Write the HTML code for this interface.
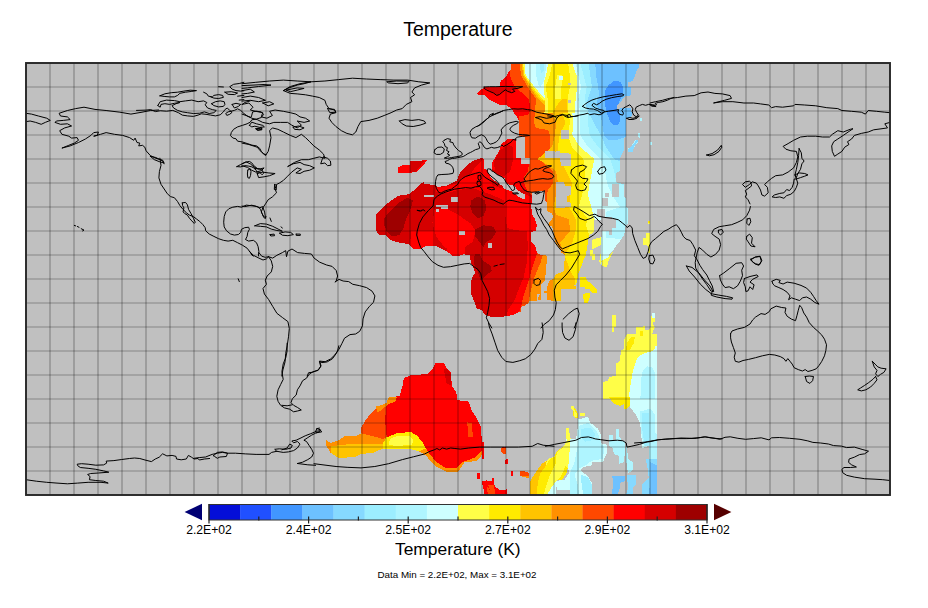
<!DOCTYPE html>
<html><head><meta charset="utf-8"><title>Temperature</title>
<style>
html,body{margin:0;padding:0;background:#fff;}
body{width:928px;height:608px;overflow:hidden;}
svg{display:block;}
text{font-family:"Liberation Sans",Arial,sans-serif;fill:#000;}
</style></head><body>
<svg width="928" height="608" viewBox="0 0 928 608">
<rect width="928" height="608" fill="#fff"/>
<defs><clipPath id="mapclip"><rect x="26" y="63" width="864" height="432"/></clipPath></defs>
<rect x="26" y="63" width="864" height="432" fill="#c0c0c0"/>
<g clip-path="url(#mapclip)" shape-rendering="crispEdges">
<defs><mask id="dm" maskUnits="userSpaceOnUse" x="0" y="0" width="928" height="608"><polygon points="511.4,63.0 638.5,63.0 638.5,67.7 636.1,71.7 634.5,77.2 632.2,81.2 628.2,82.0 628.2,86.7 630.6,87.5 630.6,95.4 625.0,96.2 621.9,100.1 617.2,105.6 617.2,108.8 625.8,108.0 630.6,108.0 632.2,115.1 629.8,117.5 625.8,118.3 625.8,137.2 623.5,138.2 623.5,150.8 619.5,158.7 619.5,171.3 616.4,172.9 616.4,182.4 623.5,184.0 624.3,196.6 625.8,198.2 625.8,206.8 628.2,209.2 628.2,223.4 625.8,225.0 625.0,231.0 623.5,236.0 620.0,241.0 616.0,246.0 613.0,250.5 609.0,254.5 607.0,266.7 602.0,266.0 599.2,262.0 600.7,252.5 600.7,245.4 592.0,249.3 592.0,239.8 602.3,236.7 602.3,230.4 600.7,224.0 601.4,226.7 595.4,230.7 589.0,235.4 587.5,244.9 586.0,254.4 584.0,259.1 581.0,267.0 578.5,273.3 577.7,278.8 576.1,284.4 572.9,286.0 572.9,289.1 561.1,289.1 561.1,300.5 554.0,301.0 547.4,300.0 537.3,300.5 544.4,281.5 541.2,284.7 541.2,293.4 537.3,294.2 537.3,300.5 529.4,300.5 529.4,302.1 525.4,305.2 521.5,306.8 520.7,311.5 513.6,314.7 505.7,316.3 497.8,317.1 491.5,317.1 486.7,315.5 483.6,313.1 482.0,310.0 482.0,310.0 476.5,308.4 474.9,302.8 472.5,297.3 471.0,294.2 471.0,281.5 472.5,276.8 474.9,273.6 474.1,268.9 471.0,262.6 469.4,254.7 463.1,254.4 458.3,256.3 452.0,255.5 447.3,251.5 441.0,248.4 434.6,245.5 426.7,245.5 421.2,248.4 417.3,249.2 412.5,248.4 409.4,244.4 401.5,242.8 395.9,242.1 390.4,239.7 385.7,235.4 379.4,234.9 376.2,231.0 376.2,214.0 381.7,209.2 388.0,202.9 398.3,195.8 409.4,194.2 415.7,188.7 420.4,183.9 423.6,182.4 424.4,183.9 436.2,185.2 437.8,187.1 447.3,185.5 456.7,180.8 459.9,172.9 465.4,166.6 472.5,161.0 482.0,158.0 492.0,161.8 495.9,156.3 499.4,150.8 501.4,143.7 505.4,141.3 508.5,138.5 519.0,138.5 519.0,134.8 519.0,121.4 516.7,116.7 513.3,112.0 511.7,108.8 506.6,105.3 500.3,105.0 494.6,102.5 488.0,99.0 484.1,94.9 477.7,94.6 477.3,93.0 480.1,90.2 484.8,87.0 499.4,86.7 500.6,81.2 506.2,76.4 508.8,71.7 511.4,68.5 511.4,63.0" fill="#fff" /></mask></defs>
<g mask="url(#dm)"><polygon points="360.0,60.0 700.0,60.0 700.0,330.0 360.0,330.0" fill="#ff0000" /><polygon points="370.0,150.0 482.0,150.0 482.0,160.0 500.0,175.0 512.0,190.0 532.0,190.0 532.0,231.0 527.0,231.0 527.8,246.8 526.7,262.6 523.8,276.8 519.9,286.3 514.4,300.5 508.0,310.0 505.7,320.0 470.0,320.0 370.0,250.0" fill="#d50000" /><polygon points="435.2,186.6 444.9,186.6 455.9,183.9 461.4,177.8 469.7,175.6 475.2,167.3 483.5,159.0 491.8,159.0 491.8,185.2 505.6,189.4 516.7,192.1 527.7,194.9 534.6,200.4 538.8,223.9 530.5,231.4 516.7,230.3 507.0,228.0 505.1,214.2 504.2,200.4 491.8,194.9 483.5,192.1 472.5,188.0 458.7,189.9 444.9,193.5 436.6,192.1" fill="#ff0000" /><polygon points="434.4,210.1 444.9,208.2 457.3,214.2 471.1,223.9 475.8,231.4 472.5,241.9 458.7,251.5 444.9,247.9 436.0,236.3 432.4,222.5" fill="#ff0000" /><polygon points="411.0,231.0 434.6,231.0 434.6,247.0 426.7,247.0 421.2,250.0 412.5,250.0 410.2,244.4" fill="#ff0000" /><polygon points="447.3,240.5 464.6,240.5 464.6,256.0 458.3,258.0 452.0,257.0 447.3,251.5" fill="#ff0000" /><polygon points="384.1,218.4 389.6,211.5 397.9,203.2 407.6,197.7 413.1,200.4 410.3,210.1 406.2,218.4 403.4,228.0 399.3,235.0 392.4,236.3 386.9,231.4 384.1,225.3" fill="#9e0000" /><polygon points="471.1,200.4 478.0,196.3 484.9,200.4 486.3,208.7 483.5,215.6 478.0,218.4 472.5,212.9 470.3,206.0" fill="#9e0000" /><polygon points="475.2,229.4 483.5,225.3 493.2,226.7 495.9,232.2 491.8,239.1 486.3,241.9 483.5,247.4 479.4,241.9 475.2,236.3" fill="#9e0000" /><polygon points="474.7,254.3 479.4,254.3 483.5,261.2 490.4,265.3 491.8,270.9 486.3,275.0 480.8,280.5 478.0,272.2 473.9,263.9" fill="#9e0000" /><polygon points="511.4,60.0 510.5,68.0 509.8,75.0 512.0,81.0 515.0,87.0 521.0,92.0 528.7,99.0 530.0,105.0 529.8,111.0 528.0,115.0 519.5,116.0 519.0,137.0 523.0,140.0 525.0,150.0 525.0,158.0 529.0,164.0 528.0,171.0 524.0,177.0 524.0,183.0 527.0,190.0 531.0,195.0 540.0,200.0 540.0,250.0 536.5,254.7 534.1,262.6 530.9,272.0 529.4,278.4 526.2,287.8 523.0,297.3 521.5,305.2 518.0,315.0 518.0,330.0 720.0,330.0 720.0,60.0" fill="#ff4800" /><polygon points="519.8,60.0 520.8,75.0 527.7,87.0 536.0,99.0 535.0,111.0 534.0,123.0 536.0,128.0 548.0,130.0 550.0,135.0 550.0,147.0 548.0,155.0 540.0,159.0 545.0,165.0 553.0,171.0 553.4,183.0 548.0,190.0 547.0,195.0 547.0,250.0 543.0,254.7 540.5,262.6 536.5,272.0 534.1,278.4 531.0,290.0 529.4,297.3 528.0,305.0 528.0,330.0 720.0,330.0 720.0,60.0" fill="#ff9000" /><polygon points="521.6,60.0 523.0,75.0 529.8,87.0 538.2,99.0 551.8,111.0 556.0,123.0 555.0,135.0 552.0,147.0 537.6,159.0 548.0,165.0 556.0,171.0 558.0,183.0 556.0,195.0 553.4,207.0 556.0,215.0 569.0,219.0 570.0,231.0 560.0,243.0 565.0,255.0 556.0,270.0 553.4,279.0 553.4,330.0 720.0,330.0 720.0,60.0" fill="#ffc400" /><polygon points="522.6,60.0 524.0,75.0 531.4,87.0 540.3,99.0 561.3,111.0 565.6,123.0 559.7,135.0 558.0,147.0 559.7,159.0 566.0,171.0 572.3,183.0 570.0,195.0 569.2,207.0 575.5,219.0 575.5,231.0 572.3,243.0 564.4,255.0 570.0,270.0 575.0,279.0 575.0,330.0 720.0,330.0 720.0,60.0" fill="#ffeb00" /><polygon points="522.8,60.0 524.3,75.0 532.5,87.0 542.4,99.0 569.0,111.0 569.8,123.0 567.6,135.0 572.0,147.0 583.4,159.0 585.0,171.0 585.0,183.0 582.0,195.0 578.6,207.0 588.0,219.0 586.0,225.0 592.0,243.0 600.0,330.0 720.0,330.0 720.0,60.0" fill="#fffe47" /><polygon points="524.5,60.0 525.6,75.0 534.5,87.0 545.0,99.0 572.3,111.0 573.0,123.0 572.3,135.0 580.0,147.0 594.4,159.0 592.0,171.0 589.7,183.0 588.0,195.0 591.3,207.0 594.0,219.0 600.7,224.0 601.0,330.0 720.0,330.0 720.0,60.0" fill="#ceffff" /><polygon points="575.0,60.0 578.2,75.0 581.4,87.0 578.2,99.0 580.0,111.0 580.0,123.0 580.2,135.0 588.0,147.0 600.7,159.0 605.0,171.0 607.0,183.0 612.0,195.0 620.0,207.0 606.0,212.0 606.0,238.0 640.0,240.0 720.0,240.0 720.0,60.0" fill="#aff5ff" /><polygon points="579.3,60.0 583.5,75.0 586.7,87.0 584.5,99.0 588.0,111.0 588.0,123.0 589.7,135.0 598.0,147.0 610.2,159.0 614.0,171.0 616.5,183.0 640.0,190.0 720.0,190.0 720.0,60.0" fill="#9ceeff" /><polygon points="588.0,60.0 592.0,87.0 586.0,105.0 588.0,111.0 594.0,123.0 600.7,135.0 606.0,147.0 614.0,159.0 640.0,170.0 720.0,170.0 720.0,60.0" fill="#86d9ff" /><polygon points="594.3,60.0 595.8,69.3 596.6,78.8 598.2,86.7 599.0,94.6 596.6,104.0 599.8,113.5 601.4,119.8 603.0,129.3 604.0,135.0 608.5,139.7 617.2,139.7 625.0,137.0 720.0,137.0 720.0,60.0" fill="#6dc1ff" /><polygon points="614.8,80.4 620.3,81.9 622.7,86.7 622.7,94.6 619.5,100.9 617.2,107.2 620.3,115.1 620.3,121.4 617.2,125.4 613.2,125.4 609.3,119.8 606.1,110.4 604.5,100.9 604.5,91.4 608.5,85.1" fill="#4196ff" /><polygon points="548.7,59.8 571.9,59.8 574.0,69.3 576.6,75.1 577.2,87.0 575.6,98.8 575.1,112.5 544.5,112.5 545.1,99.8 543.5,87.0 544.0,81.9 546.1,75.1" fill="#fffe47" /><polygon points="552.9,59.8 567.7,59.8 569.8,75.1 569.8,87.0 567.7,98.8 567.7,112.5 547.7,112.5 547.7,98.8 545.6,87.0 549.8,75.1" fill="#ffeb00" /><polygon points="557.2,75.1 562.4,75.1 561.4,87.0 561.4,98.8 555.1,98.8 555.1,87.0" fill="#fffe47" /><polygon points="562.4,98.8 566.6,98.8 567.7,112.5 552.9,112.5 557.2,105.1" fill="#ffc400" /><polygon points="558.7,75.6 562.9,75.6 562.9,80.4 558.7,80.4" fill="#ceffff" /><polygon points="536.1,59.8 546.6,59.8 545.1,75.1 543.5,81.9 540.3,87.2 538.2,84.1 536.1,75.1" fill="#aff5ff" /><polygon points="540.3,59.8 544.5,59.8 543.5,71.4 541.4,73.5 540.3,69.3" fill="#9ceeff" /><polygon points="484.8,87.5 513.3,87.5 510.1,92.2 505.4,90.6 497.5,95.4 491.2,92.2" fill="#d50000" /><polygon points="499.4,150.8 508.5,144.5 513.3,147.6 513.3,158.7 510.1,171.3 503.8,176.1 495.9,172.9 493.5,163.4" fill="#d50000" /></g>
<polygon points="483.7,158.4 483.7,156.3 494.2,156.3 495.3,157.9 492.6,160.5 492.1,170.0 494.2,172.6 497.4,174.7 504.7,178.4 505.3,181.6 506.8,183.7 515.3,186.3 516.3,188.9 520.5,192.1 524.7,194.2 524.7,199.5 519.5,197.4 515.3,194.2 511.1,191.1 504.7,188.9 501.6,185.3 496.8,182.1 492.6,179.5 490.0,176.3 487.4,170.0 483.7,168.4" fill="#c0c0c0" /><polygon points="516.3,136.0 525.0,137.0 525.0,158.0 529.7,158.4 529.7,164.0 521.0,164.0 521.0,158.4 516.3,158.4" fill="#c0c0c0" /><polygon points="532.1,192.1 544.7,190.5 544.7,200.0 547.4,203.5 547.4,211.4 551.8,213.0 553.4,217.0 549.4,222.5 547.4,225.0 551.8,226.4 553.4,230.4 554.2,238.3 555.7,243.0 558.1,246.2 560.5,249.3 561.3,252.5 564.4,254.8 565.2,258.8 563.6,265.1 563.6,271.4 559.7,273.0 556.5,274.0 553.4,278.7 549.4,281.0 547.4,285.8 547.4,301.5 541.2,301.5 541.2,284.7 544.4,281.5 545.2,278.4 546.7,262.6 546.7,255.6 540.0,254.8 536.8,252.5 535.2,246.2 531.3,241.4 531.3,232.0 536.0,230.4 536.8,225.6 535.2,219.3 532.0,214.6 531.3,206.7 532.0,198.8" fill="#c0c0c0" /><polygon points="555.6,182.4 563.5,182.4 565.0,185.5 570.6,185.5 570.6,195.0 566.6,196.6 566.6,201.3 570.6,202.9 570.6,207.0 556.5,208.3 555.6,206.0" fill="#c0c0c0" /><polygon points="544.7,150.5 553.4,150.5 558.1,152.8 570.7,153.6 570.7,166.3 561.3,166.3 559.7,158.4 544.7,158.4" fill="#c0c0c0" /><polygon points="561.3,130.0 569.0,130.0 569.0,139.0 561.3,139.0" fill="#c0c0c0" /><polygon points="611.6,184.0 618.7,184.0 618.7,196.6 611.6,196.6" fill="#c0c0c0" /><polygon points="604.5,192.6 609.3,192.6 609.3,196.6 604.5,196.6" fill="#c0c0c0" /><polygon points="602.2,198.2 607.7,198.2 607.7,206.0 602.2,206.0" fill="#c0c0c0" /><polygon points="596.6,209.2 604.5,209.2 604.5,217.1 596.6,217.1" fill="#c0c0c0" /><polygon points="601.4,217.1 612.4,217.1 612.4,231.0 601.4,231.0" fill="#c0c0c0" /><polygon points="594.3,220.3 601.4,220.3 601.4,231.0 594.3,231.0" fill="#c0c0c0" /><polygon points="605.3,218.8 616.4,218.8 616.4,227.5 605.3,227.5" fill="#c0c0c0" /><polygon points="608.5,227.5 611.6,227.5 611.6,234.6 608.5,234.6" fill="#c0c0c0" /><polygon points="568.2,82.7 570.6,82.7 570.6,85.1 568.2,85.1" fill="#c0c0c0" /><polygon points="568.2,100.1 570.6,100.1 570.6,102.5 568.2,102.5" fill="#c0c0c0" /><polygon points="556.4,150.6 560.3,150.6 560.3,153.8 556.4,153.8" fill="#c0c0c0" /><polygon points="560.9,461.4 564.1,461.4 564.1,469.3 560.9,469.3" fill="#c0c0c0" /><polygon points="556.2,473.2 560.9,470.1 560.9,477.9 556.2,477.9" fill="#c0c0c0" /><polygon points="424.4,194.7 433.8,194.7 433.8,196.9 424.4,196.9" fill="#c0c0c0" /><polygon points="451.2,197.4 457.5,197.4 457.5,201.6 451.2,201.6" fill="#c0c0c0" /><polygon points="436.2,205.3 448.1,205.3 448.1,208.9 440.9,208.9 440.9,207.3 436.2,207.3" fill="#c0c0c0" /><polygon points="435.9,209.2 438.6,209.2 438.6,212.1 435.9,212.1" fill="#c0c0c0" /><polygon points="458.7,231.4 464.7,231.4 464.7,235.0 458.7,235.0" fill="#c0c0c0" /><polygon points="487.7,243.2 491.8,243.2 491.8,247.9 487.7,247.9" fill="#c0c0c0" />
<polygon points="435.5,362.9 443.8,362.9 446.6,368.4 450.7,372.6 452.1,386.4 456.2,391.9 457.6,400.2 468.7,401.6 471.4,409.9 476.9,418.1 481.1,427.8 481.9,443.0 483.0,448.5 481.1,456.8 476.9,460.9 464.5,462.3 461.8,466.5 457.6,472.0 446.6,472.0 438.3,467.9 432.8,463.7 425.9,455.4 418.9,451.3 407.9,448.5 396.9,448.5 383.0,448.5 373.4,452.7 361.0,454.0 355.4,456.8 338.9,458.2 330.6,452.7 326.4,445.8 326.4,440.2 330.6,443.0 338.9,440.2 344.4,436.1 355.4,436.1 361.0,433.3 361.0,427.8 365.1,420.9 369.2,415.4 374.8,409.9 380.3,405.7 386.4,403.0 388.6,397.4 399.6,396.0 402.4,386.4 403.8,378.1 410.7,375.3 427.2,374.0 432.8,368.4" fill="#ff0000" /><polygon points="386.4,403.0 385.3,418.1 385.8,433.3 388.0,437.5 383.0,444.4 361.0,444.4 361.0,427.8 365.1,420.9 369.2,415.4 374.8,409.9 380.3,405.7" fill="#ff4800" /><polygon points="376.1,406.5 381.7,405.2 386.4,403.0 388.6,397.4 396.9,396.6 395.7,401.0 387.5,404.9 381.7,409.9 377.0,412.6" fill="#ff9000" /><polygon points="361.0,433.3 383.0,438.9 386.4,437.5 383.0,448.5 373.4,452.7 361.0,454.0 355.4,456.8 338.9,458.2 330.6,452.7 326.4,445.8 326.4,440.2 330.6,443.0 338.9,440.2 344.4,436.1 355.4,436.1" fill="#ff9000" /><polygon points="330.6,446.3 347.1,444.4 383.0,444.4 383.0,448.5 373.4,452.7 361.0,454.0 355.4,456.8 338.9,458.2 330.6,452.7" fill="#ffc400" /><polygon points="386.4,437.5 396.9,433.3 410.7,431.9 417.6,436.1 423.1,443.0 425.9,448.5 428.6,452.7 418.9,451.3 407.9,448.5 383.0,448.5 383.0,443.0" fill="#ffeb00" /><polygon points="390.0,438.9 396.9,436.1 409.3,435.5 413.4,440.2 412.0,445.2 394.1,445.8 388.6,444.4" fill="#fffe47" /><polygon points="425.9,448.5 430.0,454.6 436.9,462.3 445.2,467.9 456.2,467.9 461.8,462.3 475.6,457.4 481.1,451.3 483.0,448.5 481.1,456.8 476.9,460.9 464.5,462.3 461.8,466.5 457.6,472.0 446.6,472.0 438.3,467.9 432.8,463.7 425.9,455.4 418.9,451.3" fill="#ff9000" /><polygon points="443.8,368.4 447.1,369.0 450.7,373.4 451.3,385.6 446.6,383.6 445.2,376.7" fill="#d50000" /><polygon points="467.3,422.3 472.0,423.1 472.8,437.5 468.1,436.9" fill="#ff4800" /><polygon points="501.8,447.1 505.9,447.1 505.9,452.7 501.8,452.7" fill="#ff0000" /><polygon points="504.6,459.6 507.3,459.6 507.3,463.7 504.6,463.7" fill="#ff0000" /><polygon points="476.9,473.4 479.7,473.4 479.7,478.9 476.9,478.9" fill="#ff0000" /><polygon points="511.5,470.6 513.4,470.6 513.4,474.8 511.5,474.8" fill="#ff0000" /><polygon points="481.9,481.7 486.6,480.3 490.8,484.4 493.5,478.9 495.2,489.9 507.3,489.9 507.3,494.9 484.7,494.9" fill="#ff0000" /><polygon points="486.6,485.8 492.1,488.6 493.5,494.9 488.0,494.9" fill="#ff4800" /><polygon points="519.8,472.0 525.3,472.8 529.4,476.1 529.4,478.3 519.8,476.1" fill="#ff9000" /><polygon points="580.2,278.7 584.9,278.7 589.7,283.4 592.8,285.8 596.8,288.9 596.8,292.9 592.1,292.9 589.7,288.9 584.9,286.6 580.2,286.6" fill="#ffeb00" /><polygon points="583.4,293.7 589.7,292.9 589.7,297.6 588.1,302.4 584.9,302.4 583.4,298.4" fill="#ffeb00" /><polygon points="611.8,315.0 615.7,315.0 615.7,326.1 614.2,326.1 614.2,331.6 611.8,331.6" fill="#fffe47" /><polygon points="623.6,338.7 626.0,338.7 626.0,349.7 623.6,349.7" fill="#fffe47" /><polygon points="592.1,255.0 594.4,255.0 594.4,258.9 592.1,258.9" fill="#ffeb00" /><polygon points="543.9,290.5 547.4,290.5 547.4,292.9 543.9,292.9" fill="#ff9000" /><polygon points="532.8,296.8 536.8,296.8 536.8,300.8 532.8,300.8" fill="#ff9000" /><polygon points="573.1,285.8 575.5,285.8 575.5,288.9 573.1,288.9" fill="#ffc400" /><polygon points="580.1,277.3 585.6,277.3 587.9,281.2 591.9,284.4 595.4,287.5 596.6,293.1 591.9,293.1 589.5,289.1 585.6,289.1 584.0,284.4 580.1,284.4" fill="#ffeb00" /><polygon points="585.6,293.1 589.5,293.1 589.5,297.0 587.9,302.5 584.0,302.5 584.0,297.0" fill="#ffeb00" /><polygon points="645.6,233.1 649.5,233.1 649.5,252.8 647.9,252.8 647.9,245.7 643.2,244.9 643.2,238.6 645.6,237.8" fill="#fffe47" /><polygon points="647.9,221.2 649.5,221.2 649.5,223.6 647.9,223.6" fill="#fffe47" /><polygon points="590.3,250.4 592.7,250.4 592.7,254.4 595.4,254.4 595.4,259.9 591.9,259.9 591.9,255.9 590.3,255.9" fill="#fffe47" /><polygon points="597.4,259.9 601.4,261.5 602.2,266.2 606.9,267.0 608.5,260.7 611.6,254.4 613.2,251.2 607.7,257.5 601.4,260.7" fill="#fffe47" /><polygon points="602.5,399.0 602.5,381.9 607.2,381.2 609.6,377.2 615.9,375.6 615.9,363.8 619.4,361.4 621.4,350.4 624.6,348.8 624.6,339.3 626.2,334.6 635.6,333.8 636.4,327.5 642.7,326.7 644.3,325.1 645.1,329.8 648.3,330.6 650.6,326.7 650.6,320.4 652.2,313.3 655.4,313.3 655.4,321.9 652.2,322.7 654.6,327.5 652.2,333.8 656.9,333.8 656.9,399.0" fill="#fffe47" /><polygon points="626.9,342.5 631.7,336.9 634.8,336.9 634.1,342.5 630.1,349.6 626.2,349.6" fill="#ffeb00" /><polygon points="640.4,330.6 642.7,330.6 642.7,336.2 640.4,336.2" fill="#ffeb00" /><polygon points="655.4,345.6 656.9,345.6 656.9,399.0 628.5,399.0 630.9,381.9 633.3,369.3 636.4,359.8 640.4,355.1 645.9,352.7 652.2,351.2 655.4,348.8" fill="#ceffff" /><polygon points="647.5,366.2 652.2,367.7 654.6,372.5 655.4,399.0 640.4,399.0 641.2,378.8 642.7,370.9" fill="#aff5ff" /><polygon points="611.9,314.8 615.9,314.8 615.9,326.7 614.0,326.7 614.0,332.2 611.9,332.2" fill="#fffe47" /><polygon points="652.2,313.3 655.4,313.3 655.4,318.0 652.2,318.0" fill="#ceffff" /><polygon points="629.8,399.0 656.6,399.0 656.6,495.0 648.7,495.0 648.7,435.3 647.2,446.4 642.4,447.9 640.1,422.7 636.1,414.8 629.8,406.9" fill="#ceffff" /><polygon points="640.1,411.6 650.3,408.5 655.1,414.8 655.1,432.9 656.6,433.7 656.6,495.0 648.7,495.0 648.7,446.4 644.0,446.4 640.8,430.6" fill="#aff5ff" /><polygon points="641.6,413.2 648.7,413.2 650.3,430.6 648.7,446.4 644.8,446.4 642.4,430.6" fill="#9ceeff" /><polygon points="645.6,459.0 656.6,459.0 656.6,495.0 642.4,495.0 642.4,484.3 648.7,477.9 647.2,465.3" fill="#86d9ff" /><polygon points="650.3,462.2 656.6,465.3 656.6,495.0 648.7,495.0 650.3,481.1" fill="#6dc1ff" /><polygon points="578.5,419.5 587.9,416.4 590.3,422.7 598.2,429.0 601.4,435.3 601.4,443.2 606.9,444.8 606.9,452.7 602.9,462.2 591.9,462.2 591.9,465.3 584.0,466.9 580.1,470.1 587.9,476.4 591.9,482.7 591.9,495.0 577.7,495.0 577.7,490.6 557.2,489.8 557.2,484.3 563.5,481.1 569.0,473.2 567.4,462.2 569.8,446.4 565.8,444.8 566.6,438.5 576.1,438.5 577.7,427.4" fill="#ceffff" /><polygon points="579.3,425.8 587.9,422.7 596.6,430.6 599.8,438.5 601.4,444.8 604.5,446.4 602.9,459.0 591.9,460.6 585.6,465.3 579.3,468.5 574.5,474.8 577.7,484.3 579.3,495.0 569.8,495.0 569.8,473.2 574.5,462.2 577.7,446.4 577.7,435.3" fill="#aff5ff" /><polygon points="580.8,429.0 590.3,427.4 595.1,433.7 593.5,440.1 585.6,441.6 580.8,436.9" fill="#9ceeff" /><polygon points="580.8,474.8 587.9,477.2 591.9,484.3 591.9,495.0 583.2,495.0 581.6,484.3" fill="#9ceeff" /><polygon points="554.0,457.4 557.2,451.1 563.5,446.4 569.0,446.4 569.0,462.2 566.6,473.2 561.9,480.3 556.4,480.3 554.0,474.8" fill="#ffeb00" /><polygon points="563.5,447.9 569.8,446.4 569.0,462.2 567.4,468.5 565.1,465.3 564.3,455.8" fill="#fffe47" /><polygon points="565.8,428.2 569.0,428.2 569.8,435.3 570.6,438.5 565.8,439.3" fill="#fffe47" /><polygon points="571.4,406.1 573.7,406.1 577.7,413.2 577.7,417.9 573.7,417.2 572.9,410.1" fill="#ffeb00" /><polygon points="580.1,413.2 584.8,413.2 584.8,415.6 580.1,415.6" fill="#fffe47" /><polygon points="609.3,397.4 629.8,397.4 629.8,406.1 627.4,408.5 624.3,408.5 624.3,403.7 620.3,406.1 615.6,404.5 611.6,401.4" fill="#ffeb00" /><polygon points="609.3,435.3 613.2,435.3 613.2,440.1 616.4,440.1 616.4,429.0 618.7,429.0 618.7,436.9 621.1,438.5 621.1,440.8 625.1,441.6 625.1,452.7 623.5,462.2 619.5,463.7 618.7,455.8 614.0,454.3 612.4,447.9 609.3,446.4" fill="#aff5ff" /><polygon points="626.6,444.8 628.2,459.0 632.9,462.2 632.9,470.1 628.2,473.2 626.6,465.3 625.8,446.4" fill="#aff5ff" /><polygon points="626.6,474.8 636.1,474.8 636.1,484.3 632.9,487.4 632.9,495.0 625.8,495.0 628.2,487.4" fill="#86d9ff" /><polygon points="612.4,476.4 625.1,476.4 625.1,481.1 620.3,482.7 620.3,487.4 617.2,495.0 611.6,495.0 613.2,484.3" fill="#6dc1ff" /><polygon points="530.2,495.0 530.2,481.1 534.1,474.8 537.3,470.1 542.0,463.7 546.7,460.6 549.9,458.2 556.2,455.8 557.8,451.1 562.5,447.9 567.3,440.1 565.7,435.3 566.5,428.2 568.8,428.2 569.6,433.7 569.6,446.4 568.1,454.3 565.7,462.2 564.1,470.1 560.9,476.4 556.2,481.1 551.5,487.4 546.7,495.0" fill="#fffe47" /><polygon points="536.5,495.0 538.1,481.1 540.4,473.2 545.2,466.9 549.9,459.0 556.2,455.8 556.2,462.2 553.1,468.5 549.9,474.8 546.7,484.3 543.6,495.0" fill="#ffeb00" /><polygon points="530.2,495.0 530.2,481.1 534.1,474.8 537.3,470.1 542.0,463.7 546.7,461.4 545.2,466.9 540.4,473.2 538.1,481.1 536.5,495.0" fill="#ffc400" /><polygon points="571.2,406.1 573.6,406.1 573.6,409.3 576.7,413.2 576.7,417.2 573.6,417.2 573.6,411.6 571.2,408.5" fill="#fffe47" /><polygon points="579.9,413.2 584.6,413.2 584.6,415.6 579.9,415.6" fill="#fffe47" /><polygon points="546.7,495.0 551.5,487.4 556.2,481.1 562.5,479.5 565.7,481.1 565.7,485.1 556.2,487.4 556.2,495.0" fill="#ceffff" /><polygon points="482.0,441.6 483.9,441.6 483.9,459.0 482.0,459.0" fill="#ff0000" /><polygon points="500.9,447.9 505.7,447.9 505.7,453.5 503.3,453.5 500.9,451.1" fill="#ff4800" /><polygon points="506.0,459.0 508.1,459.0 508.1,463.7 506.0,463.7" fill="#ff0000" /><polygon points="511.2,470.8 512.8,470.8 512.8,475.6 511.2,475.6" fill="#ff0000" /><polygon points="519.9,470.8 523.8,470.8 529.4,473.2 529.4,476.4 519.9,475.6" fill="#ff4800" /><polygon points="482.0,481.1 491.5,481.1 491.5,477.9 493.8,477.9 493.8,484.3 496.2,487.4 499.4,489.8 505.7,489.8 507.3,487.4 507.3,495.0 491.5,495.0 488.3,487.4 482.0,484.3" fill="#ff0000" /><polygon points="488.3,485.1 493.8,485.1 495.4,493.7 490.7,493.7" fill="#ff4800" /><polygon points="398.0,167.4 403.1,165.0 410.2,165.0 410.2,161.1 426.7,160.3 424.4,164.2 419.6,168.9 416.5,172.4 398.0,172.9" fill="#ff0000" /><polygon points="410.2,161.5 424.4,160.9 415.7,171.6 410.2,172.1" fill="#d50000" /><polygon points="640.1,117.5 642.4,117.5 642.4,121.4 640.1,121.4" fill="#aff5ff" /><polygon points="637.7,133.3 640.1,133.3 640.1,137.2 637.7,137.2" fill="#aff5ff" /><polygon points="628.2,148.3 632.2,148.3 632.2,152.2 628.2,152.2" fill="#aff5ff" /><polygon points="650.3,141.9 651.9,141.9 651.9,144.3 650.3,144.3" fill="#aff5ff" /><polygon points="632.2,144.3 635.3,140.4 637.7,140.4 637.7,142.7 634.5,146.7 632.2,146.7" fill="#aff5ff" /><polygon points="628.2,149.2 632.9,144.5 636.9,139.7 638.5,140.5 634.5,146.1 632.2,152.4 628.2,152.4" fill="#86d9ff" /><polygon points="638.5,135.8 640.1,135.8 640.1,138.2 638.5,138.2" fill="#aff5ff" /><polygon points="650.3,142.1 651.9,142.1 651.9,144.5 650.3,144.5" fill="#aff5ff" /><polygon points="648.4,221.1 650.0,221.1 650.0,223.4 648.4,223.4" fill="#ffeb00" />
</g>
<g stroke="#000" stroke-opacity="0.30" stroke-width="1.2"><line x1="50" y1="63" x2="50" y2="495"/><line x1="74" y1="63" x2="74" y2="495"/><line x1="98" y1="63" x2="98" y2="495"/><line x1="122" y1="63" x2="122" y2="495"/><line x1="146" y1="63" x2="146" y2="495"/><line x1="170" y1="63" x2="170" y2="495"/><line x1="194" y1="63" x2="194" y2="495"/><line x1="218" y1="63" x2="218" y2="495"/><line x1="242" y1="63" x2="242" y2="495"/><line x1="266" y1="63" x2="266" y2="495"/><line x1="290" y1="63" x2="290" y2="495"/><line x1="314" y1="63" x2="314" y2="495"/><line x1="338" y1="63" x2="338" y2="495"/><line x1="362" y1="63" x2="362" y2="495"/><line x1="386" y1="63" x2="386" y2="495"/><line x1="410" y1="63" x2="410" y2="495"/><line x1="434" y1="63" x2="434" y2="495"/><line x1="458" y1="63" x2="458" y2="495"/><line x1="482" y1="63" x2="482" y2="495"/><line x1="506" y1="63" x2="506" y2="495"/><line x1="530" y1="63" x2="530" y2="495"/><line x1="554" y1="63" x2="554" y2="495"/><line x1="578" y1="63" x2="578" y2="495"/><line x1="602" y1="63" x2="602" y2="495"/><line x1="626" y1="63" x2="626" y2="495"/><line x1="650" y1="63" x2="650" y2="495"/><line x1="674" y1="63" x2="674" y2="495"/><line x1="698" y1="63" x2="698" y2="495"/><line x1="722" y1="63" x2="722" y2="495"/><line x1="746" y1="63" x2="746" y2="495"/><line x1="770" y1="63" x2="770" y2="495"/><line x1="794" y1="63" x2="794" y2="495"/><line x1="818" y1="63" x2="818" y2="495"/><line x1="842" y1="63" x2="842" y2="495"/><line x1="866" y1="63" x2="866" y2="495"/><line x1="26" y1="87" x2="890" y2="87"/><line x1="26" y1="111" x2="890" y2="111"/><line x1="26" y1="135" x2="890" y2="135"/><line x1="26" y1="159" x2="890" y2="159"/><line x1="26" y1="183" x2="890" y2="183"/><line x1="26" y1="207" x2="890" y2="207"/><line x1="26" y1="231" x2="890" y2="231"/><line x1="26" y1="255" x2="890" y2="255"/><line x1="26" y1="279" x2="890" y2="279"/><line x1="26" y1="303" x2="890" y2="303"/><line x1="26" y1="327" x2="890" y2="327"/><line x1="26" y1="351" x2="890" y2="351"/><line x1="26" y1="375" x2="890" y2="375"/><line x1="26" y1="399" x2="890" y2="399"/><line x1="26" y1="423" x2="890" y2="423"/><line x1="26" y1="447" x2="890" y2="447"/><line x1="26" y1="471" x2="890" y2="471"/></g>
<g clip-path="url(#mapclip)" fill="none" stroke="#000" stroke-width="1" stroke-linejoin="round" stroke-linecap="round">
<polyline points="26.0,113.3 31.5,114.1 38.4,116.0 46.7,118.2 50.3,120.4 45.3,122.4 41.2,124.3 35.7,122.4 30.1,121.0 26.0,121.6" />
<polyline points="158.6,110.0 150.3,110.5 142.0,112.2 130.9,114.1 119.9,112.2 106.1,110.5 95.0,109.4 84.0,107.2 75.7,108.6 67.4,110.5 59.1,113.3 60.5,116.0 67.4,116.9 70.2,119.6 63.3,120.4 56.4,121.0 55.0,122.4 60.5,124.3 67.4,123.8 71.6,126.0 64.7,127.9 59.7,130.7 61.9,134.3 68.8,136.2 71.6,138.1 77.1,137.6 78.5,140.3 74.3,143.1 68.8,145.3 61.9,148.1 70.2,145.9 78.5,142.5 85.4,139.0 90.9,135.4 93.7,132.6 98.4,132.0 97.3,135.4 93.7,136.2 100.6,134.3 106.1,132.6 114.4,134.3 122.7,135.4 129.6,137.6 133.7,140.3 135.1,138.1 137.0,142.5 139.8,143.1 138.7,145.9 142.5,145.3 144.8,147.2 146.1,150.8 150.3,155.5 155.8,158.3 162.7,160.2 164.1,163.8" />
<polyline points="150.3,156.3 155.8,157.5 162.7,161.0 164.1,163.0 159.9,161.9 154.4,159.7 150.3,156.3" />
<polyline points="74.3,225.4 75.7,225.9" />
<polyline points="77.4,226.5 79.0,227.3" />
<polyline points="81.2,228.7 84.0,230.1 82.6,230.9" />
<polyline points="159.9,95.8 164.9,93.8 171.3,92.7 177.6,92.2 183.9,91.1 190.2,90.2 196.5,90.6 191.8,91.4 185.5,92.2 179.9,93.3 177.6,95.4 174.4,96.9 169.7,96.9 164.9,96.5 159.9,95.8" />
<polyline points="157.8,105.6 160.2,101.7 166.5,100.1 174.4,100.6 179.9,101.7 185.5,100.9 191.8,100.1 198.1,101.7 203.6,100.9 206.8,102.5 205.2,104.8 207.6,108.0 212.3,109.6 216.3,110.4 213.9,112.7 209.2,113.5 204.4,111.9 199.7,113.2 193.4,113.5 187.4,112.7 182.3,111.9 177.6,110.4 173.6,108.0 172.1,105.6 176.0,103.7 179.9,102.5 174.4,103.3 169.7,104.4 164.9,103.7 161.0,104.4 160.2,107.2 157.8,105.6" />
<polyline points="136.5,110.4 146.0,110.1 150.7,109.6 155.5,111.6 160.2,110.7 166.5,111.2 172.8,110.4 178.4,112.7 182.3,115.1 187.4,115.9 193.4,116.4 198.1,115.1 201.3,113.8 206.0,114.3 210.7,115.1 215.5,115.9 220.2,114.8 223.4,111.9 224.9,109.6 227.3,108.0 229.7,110.4 232.1,112.3 229.7,114.3 226.8,115.4 225.7,113.5 228.1,111.9 234.4,110.4 237.6,108.8 240.7,110.4 243.9,113.5 247.1,115.9 251.0,117.5 251.8,115.1 252.6,111.9 256.5,111.2 261.3,111.9 263.6,114.3 261.3,117.5 256.5,119.1 251.8,119.8 250.2,122.2 247.1,123.8 242.3,125.4 237.6,126.9 233.6,129.3 231.3,132.5 230.5,135.6 232.8,138.0 236.0,138.8 237.6,141.2 242.3,141.9 247.1,143.5 251.8,145.1 256.5,145.9 259.7,148.3 261.3,151.4 263.6,153.8 266.0,154.6" />
<polyline points="203.6,92.2 206.8,93.8 208.4,96.2 212.3,96.9 213.9,95.4 218.6,94.6 222.6,95.4 223.4,97.4 218.6,98.5 213.9,98.1 210.7,96.9" />
<polyline points="211.5,103.7 215.5,101.7 220.2,100.9 224.2,101.7 224.9,104.4 223.4,106.4 218.6,106.9 213.9,105.6 211.5,103.7" />
<polyline points="243.9,82.3 239.2,83.5 233.6,84.3 229.7,86.7 232.1,89.1 236.0,90.6 240.7,91.1 243.9,90.8" />
<polyline points="224.9,92.2 231.3,91.7 237.6,93.0 234.4,94.6 228.1,94.3 224.9,92.2" />
<polyline points="237.6,96.2 243.9,95.4" />
<polyline points="239.2,100.1 243.9,99.6" />
<polyline points="250.2,100.9 244.7,102.5 242.3,104.4" />
<polyline points="232.1,104.4 236.0,103.3 240.7,104.4 238.4,106.4 234.4,108.0 232.1,104.4" />
<polyline points="249.4,125.4 251.8,122.2 256.5,123.8 262.8,125.4 264.4,126.9 259.7,127.4 254.9,126.2 251.8,126.9 249.4,125.4" />
<polyline points="257.3,129.0 261.3,127.7 262.1,129.0 258.1,130.1 257.3,129.0" />
<polyline points="218.6,86.7 223.4,87.0" />
<polyline points="283.4,90.6 290.3,86.5 300.0,83.7 311.0,81.8 324.9,81.0 338.7,79.6 352.5,78.2 366.3,79.0 380.1,79.6 393.9,80.1 407.7,80.1 418.8,81.8 429.8,82.9 421.5,85.1 414.6,87.9 411.9,92.0 414.6,94.8 410.5,97.5 411.9,101.7 406.3,104.4 402.2,108.6 396.7,110.0 391.1,112.7 384.2,115.5 377.3,118.2 369.0,120.4 360.8,121.6 358.0,126.5 355.8,132.0 352.5,134.8 346.9,133.4 341.4,130.7 335.9,126.5 331.8,122.4 329.0,118.2 330.4,114.1 335.9,112.7 334.5,110.0 329.0,108.6 326.2,104.4 324.9,100.3 319.3,97.5 312.4,96.1 305.5,94.8 297.2,93.9 290.3,93.4 283.4,90.6" />
<polyline points="387.0,81.8 396.7,81.0 409.1,81.2 407.7,82.9 398.0,83.7 388.4,82.9 387.0,81.8" />
<polyline points="327.6,108.6 334.5,109.4 335.9,112.2 329.8,112.7 327.6,108.6" />
<polyline points="242.0,83.7 255.8,82.3 269.6,81.0 283.4,80.1 297.2,81.0 311.0,81.8 304.1,83.7 297.2,85.1 289.0,87.9 283.4,90.6" />
<polyline points="242.0,85.6 253.0,85.1 264.1,84.5 271.0,85.1 258.6,86.5 247.5,87.9 242.0,88.4" />
<polyline points="242.0,90.6 250.3,89.2 254.4,92.0 247.5,93.4 242.0,93.9" />
<polyline points="242.0,97.5 250.3,96.1 258.6,97.5 265.5,100.3 258.6,101.7 250.3,100.3 242.0,101.1" />
<polyline points="262.7,103.0 269.6,101.7 273.8,103.9 268.2,105.8 262.7,103.0" />
<polyline points="286.2,90.1 297.2,87.9 304.1,88.4 297.2,90.1 290.3,91.7 286.2,90.1" />
<polyline points="242.0,104.4 248.9,103.0 253.0,107.2 250.3,110.0 255.8,111.3 262.7,112.7 261.3,116.9 266.9,118.2 272.4,115.5 269.6,111.3 275.1,110.0 283.4,111.3 290.3,112.7 295.9,114.1 300.0,116.9 305.5,118.2 309.7,121.0 304.1,122.4 297.2,121.0 301.4,125.1 297.2,127.9 291.7,125.1 287.6,122.4 280.7,122.4 273.8,122.4 269.6,123.8 262.7,122.4 257.2,119.6 251.7,118.2 246.1,115.5 242.0,114.1" />
<polyline points="293.1,127.1 298.6,126.0 304.1,127.9 300.0,129.8 294.5,129.3 293.1,127.1" />
<polyline points="255.8,128.7 261.3,127.9 261.9,129.8 257.2,130.4 255.8,128.7" />
<polyline points="242.0,143.1 248.9,144.5 257.2,147.2 261.3,151.9 265.5,155.5 268.2,151.4 269.6,145.9 271.0,137.6 269.6,130.7 272.4,127.9 277.9,129.3 283.4,132.0 290.3,135.4 295.9,137.6 301.4,134.3 305.5,137.6 309.7,141.7 313.8,145.9 319.3,150.0 323.5,154.1 324.9,158.3 319.3,156.9 313.8,158.3 308.3,159.7 301.4,159.7 294.5,162.4 287.6,166.6 293.1,163.8 300.0,162.4 304.1,164.6 309.7,165.7 314.4,167.9 309.7,170.2 304.1,171.3 300.0,173.5 295.9,172.9 301.4,169.3 297.2,167.9 291.7,172.1 287.6,176.2 283.4,180.4 279.3,183.1 276.5,184.5 275.1,188.7 276.5,192.8 272.4,196.9 268.2,199.7 265.5,203.9 262.7,208.0 261.3,212.1 263.5,216.3 265.5,217.7 264.6,212.1 262.7,206.6 259.1,208.0 257.2,206.6 251.7,205.2 244.8,206.6 242.0,206.1" />
<polyline points="323.5,156.9 327.6,158.3 330.4,161.0 330.9,165.2 327.6,165.7 324.9,163.0 320.7,163.8 322.1,159.7 323.5,156.9" />
<polyline points="242.0,163.8 246.1,161.9 250.3,163.8 254.4,167.4 258.6,169.3 264.1,167.9 261.3,170.7 255.8,172.1 251.7,170.2 247.5,167.4 242.0,165.7" />
<polyline points="257.2,173.5 262.7,172.1 268.2,172.9 275.1,173.5 269.6,175.7 264.1,176.8 258.6,177.6 257.2,173.5" />
<polyline points="274.6,184.5 276.5,185.1 276.2,190.0 274.3,189.5 274.6,184.5" />
<polyline points="399.4,121.0 404.9,119.6 411.9,120.4 418.8,119.6 424.3,121.0 425.7,123.2 420.1,125.1 413.2,126.5 406.3,126.0 402.2,123.8 399.4,121.0" />
<polyline points="502.7,111.0 497.2,113.4 492.4,115.4 489.3,117.0 486.1,119.7 482.9,122.8 479.8,125.2 475.8,126.8 471.9,129.2 470.0,132.3 470.6,135.5 471.9,137.8 475.4,138.2 478.2,136.3 481.4,134.7 484.5,136.3 486.1,138.6 487.7,141.8 490.1,144.2 493.2,143.4 496.4,141.8 498.7,139.4 500.3,136.3 501.9,133.1 501.1,129.9 503.5,126.8 506.6,124.4 509.8,122.8 512.9,122.1 516.1,121.3 518.5,122.1 516.9,123.6 513.7,125.2 511.4,126.8 509.8,129.2 511.4,131.5 514.5,133.1 518.5,134.4 522.4,134.7 527.2,135.0 529.5,135.5 522.4,136.3 517.7,137.1 515.3,138.6 516.1,140.2 512.9,139.4 511.4,141.8 509.0,143.4 506.6,144.9 503.5,146.5 501.9,144.9 500.3,146.5 497.2,147.6 494.0,148.1 491.6,147.3 489.3,148.1 486.9,148.9 484.5,147.6 482.9,144.9 481.4,142.6 479.8,141.8 478.2,143.4 479.0,145.7 479.8,148.1 478.2,148.9 475.4,149.7 472.7,151.3 470.6,152.4 467.9,153.6 465.6,155.2 463.2,156.5 460.8,157.1 457.7,157.6 454.5,158.4 452.2,158.4 449.8,159.2 447.4,160.7 445.1,161.5 445.8,163.1 449.0,163.9 451.4,165.5 452.9,167.8 453.7,171.0 452.9,173.4 448.2,174.2 441.9,174.5 437.9,174.9 436.4,177.3 435.6,181.3 435.3,185.2 436.4,188.4 438.7,192.3 441.1,193.1 443.5,191.5 448.2,189.9 451.4,189.2 454.5,186.8 457.7,184.4 459.3,181.3 461.6,178.9 465.6,176.5 470.3,174.9 475.4,173.4 479.8,172.3 480.3,172.6 481.8,173.8 484.5,177.0 489.7,180.2 494.5,182.8 497.6,185.4 498.7,183.6 497.6,182.1 495.3,179.4 492.1,177.0 488.9,174.2 487.4,171.8 487.1,169.4 488.6,168.8 490.7,169.3" />
<polyline points="490.7,169.3 491.3,170.7 493.7,171.8 497.2,174.6 502.4,177.0 504.7,179.7 506.3,182.8 508.7,185.7 510.6,188.4 512.2,190.7 514.2,189.9 514.8,188.1 513.7,185.2 515.3,182.8 517.4,182.1 519.3,181.3 520.1,182.8 522.4,182.1 525.6,181.3 524.0,178.9 526.4,175.7 528.7,172.6 531.9,170.2 535.1,168.6 538.2,169.1 541.4,167.8 544.5,166.6 549.3,165.5 551.6,165.9 547.7,167.5 544.5,168.6 542.9,170.7 545.3,171.8 549.3,172.6 552.4,174.2 554.0,176.5 551.6,178.6 547.7,179.2 542.9,178.6 538.2,179.2 533.5,180.2 528.7,180.8 525.6,181.3" />
<polyline points="520.1,182.8 520.8,185.2 522.4,187.6 524.0,189.9 527.2,191.5 531.9,192.3 536.6,191.8 541.4,192.3 544.5,190.7 543.7,194.7 542.9,199.4 541.4,203.4 536.6,204.2 531.9,203.8 527.2,203.4 522.4,202.9 517.7,201.8 512.9,200.7 509.0,200.2 505.8,201.8 503.5,204.2 498.7,202.6 494.0,200.2 489.3,198.6 484.5,197.1 482.2,194.7 482.9,191.5 481.4,188.4 479.8,186.5 475.4,186.8 471.1,188.1 465.6,187.6 460.1,188.4 454.5,189.2 449.8,190.7 445.1,192.3 441.1,193.9 437.2,196.3 434.0,199.4 433.1,205.7" />
<polyline points="478.2,175.7 480.6,174.9 481.1,178.9 479.0,180.5 477.9,178.1 478.2,175.7" />
<polyline points="477.4,181.3 480.6,181.3 481.1,185.2 478.2,186.0 476.9,183.6 477.4,181.3" />
<polyline points="487.4,188.1 488.9,187.3 493.7,187.3 494.5,189.6 491.3,189.8 488.6,188.8 487.4,188.1" />
<polyline points="512.9,193.1 517.7,192.8 518.5,193.7 513.7,194.1 512.9,193.1" />
<polyline points="535.1,193.1 539.0,191.8 539.8,192.8 536.6,194.1 535.1,193.1" />
<polyline points="444.3,140.2 447.4,138.6 450.6,139.4 449.8,141.8 452.9,142.6 453.7,144.9 456.1,148.1 458.5,150.5 461.6,152.4 462.4,154.4 460.1,156.0 456.1,156.8 451.4,157.6 447.4,158.4 444.3,158.1 447.4,156.8 449.8,155.2 447.4,153.9 449.0,151.7 446.6,150.5 447.4,147.6 445.1,146.5 444.3,143.4 442.7,141.8 444.3,140.2" />
<polyline points="434.8,149.7 437.9,147.3 441.9,147.0 444.3,148.9 443.5,152.4 440.3,154.4 436.4,154.4 434.0,152.8 434.8,149.7" />
<polyline points="484.1,87.0 489.6,86.7 495.9,86.7 505.4,86.4 513.3,86.7 522.7,86.7 518.0,88.3 512.5,89.1 514.8,91.4 511.7,92.7 507.7,91.4 505.4,89.8 502.2,92.2 499.4,94.6 496.7,95.4 493.5,93.0 489.6,91.4 486.4,89.8 484.1,88.3 484.1,87.0" />
<polyline points="477.7,126.2 480.9,123.8 484.8,120.6 488.8,117.5 489.6,115.1 493.5,113.2 491.9,115.4 496.7,113.2 499.4,112.3 503.8,110.4 508.5,109.6 513.3,108.8 518.0,109.1 522.7,108.8 527.5,109.6 531.4,110.1 536.9,112.3 541.7,113.2 548.0,114.3 554.3,115.9 556.7,118.3 555.1,122.2 549.6,123.8 544.1,123.0 541.7,119.8 537.7,118.3 535.4,117.5 540.1,116.7 546.4,118.3 551.2,117.5 552.7,116.7" />
<polyline points="556.7,118.3 559.1,115.9 563.0,114.8 566.9,115.4 568.5,117.5 571.7,116.7 578.0,115.9" />
<polyline points="547.7,115.9 554.0,116.7 558.7,115.4 562.7,114.3 565.1,116.4 568.2,117.5 567.4,115.1 569.8,114.3 570.6,116.7 574.5,116.4 579.3,115.1 584.0,114.3 587.9,113.2 589.5,114.8 594.3,113.8 599.0,114.8 602.2,113.8 604.5,111.9 608.5,111.2 614.0,110.4 618.7,109.6 617.9,111.9 619.5,114.3 622.7,115.1 623.5,113.2 621.9,110.4 623.5,108.0 626.6,106.4 629.8,104.8 631.4,106.4 632.9,108.8 632.2,111.9 633.7,115.1 636.1,116.7 638.5,115.1 636.9,112.7 635.3,109.6 636.1,107.2 639.3,105.6 642.4,104.4 645.6,105.3 648.7,104.4 652.7,105.6 656.6,104.8 655.1,103.3 658.2,102.5 662.9,101.7 667.7,100.1 670.8,98.5 674.0,97.4" />
<polyline points="626.6,118.3 629.8,117.5 632.9,118.3 636.1,117.5 639.3,115.9 636.9,118.3 632.9,119.5 629.0,119.5 626.6,118.3" />
<polyline points="582.4,106.4 584.8,104.4 587.9,102.2 591.9,100.1 596.6,98.5 602.9,96.9 609.3,95.8 616.4,94.6 621.9,93.8 623.8,94.6 623.2,95.8 617.9,96.5 611.6,97.7 606.1,99.3 602.2,101.2 599.5,103.3 596.6,104.8 593.5,103.3 591.9,105.3 595.4,108.0 599.8,109.6 603.7,110.4 604.5,111.9 601.4,113.2 597.4,110.4 593.5,109.1 589.5,108.8 585.6,108.0 582.4,106.4" />
<polyline points="650.0,103.0 655.5,101.7 662.4,100.3 669.3,98.4 677.6,97.5 685.9,96.1 694.2,95.6 701.1,92.8 708.0,92.0 714.9,93.4 722.4,93.9 730.1,95.6 731.5,98.4 724.6,100.3 719.0,101.7 713.5,103.0 722.4,101.7 732.9,101.7 743.9,103.0 753.6,103.0 760.5,103.9 768.8,105.0 771.5,107.7 775.7,106.6 782.6,107.2 793.6,105.8 795.0,104.4 804.7,105.0 815.7,105.8 826.8,107.7 837.8,108.6 841.9,110.5 851.6,111.3 861.3,112.2 865.4,114.1 868.2,110.5 876.5,111.3 884.8,112.2 890.0,112.7" />
<polyline points="650.0,104.4 654.1,105.0 656.1,106.6 651.4,106.1 650.0,104.4" />
<polyline points="890.0,122.4 884.8,123.8 887.5,127.9 882.0,128.7 873.7,129.8 868.2,132.0 861.3,133.4 854.4,135.4 851.6,139.0 847.5,141.7 848.9,144.5 844.7,147.2 841.9,151.4 837.8,154.1 834.5,156.3 832.3,151.4 831.7,145.9 833.7,141.7 837.8,139.0 843.3,135.4 848.9,131.5 853.0,128.7 850.2,129.3 843.3,132.0 837.8,130.7 832.3,134.3 829.5,137.0 822.6,137.0 815.7,136.2 807.4,136.2 800.5,137.0 793.6,140.3 788.1,143.6 783.1,146.4 785.9,149.2 790.9,150.8 796.4,151.4 797.8,156.9 796.4,162.4 793.6,167.9 788.1,172.1 782.6,174.9 775.7,175.7 771.5,178.4 767.4,181.8 764.6,184.5 767.4,187.3 768.2,192.8 764.6,196.1 761.9,195.0 760.5,190.0 758.3,185.9 756.3,183.1 752.2,181.8 749.4,184.5 745.3,187.3 742.5,184.5 745.3,181.8 749.4,181.2 750.8,182.3 751.6,185.9 748.0,188.7 745.3,190.6 746.7,194.2 745.3,196.9 748.0,199.7 750.0,203.9" />
<polyline points="799.1,148.6 801.3,152.8 801.9,158.3 804.1,161.0 801.9,163.8 800.5,169.3 797.8,173.5 796.4,177.6 795.0,174.9 796.4,169.3 797.8,162.4 798.6,155.5 799.1,148.6" />
<polyline points="795.0,174.9 799.1,172.9 804.7,173.5 808.0,174.9 804.7,176.2 800.5,177.6 796.4,179.0 795.0,174.9" />
<polyline points="796.4,179.0 797.8,183.1 796.4,187.3 794.2,191.4 790.9,194.2 786.7,195.6 783.9,198.3 779.8,196.9 775.7,197.5 772.1,196.9 774.3,195.0 779.8,193.4 783.9,192.8 786.7,189.5 789.5,190.6 792.2,187.3 793.6,183.1 794.2,179.0 796.4,179.0" />
<polyline points="706.6,155.0 712.1,153.6 717.7,150.0 721.3,145.3 721.8,147.2 719.0,151.4 714.1,154.7 709.4,155.8 706.6,155.0" />
<polyline points="747.2,219.0 750.0,218.2 750.8,221.8 748.9,225.4 746.7,223.2 747.2,219.0" />
<polyline points="571.4,170.0 575.6,166.7 582.5,165.1 586.6,166.7 583.9,170.0 579.7,172.3 579.2,175.6 582.5,178.3 588.0,178.9 586.6,181.6 583.9,183.9 586.6,186.6 585.2,189.9 581.1,190.8 577.0,189.4 575.6,185.2 577.5,181.1 574.2,177.0 570.9,173.4 571.4,170.0" />
<polyline points="597.7,171.4 600.4,167.8 604.6,166.7 606.0,170.0 603.2,173.4 599.0,174.2 597.7,171.4" />
<polyline points="535.5,207.3 537.7,214.2 541.0,219.8 543.8,225.3 546.6,229.4 549.3,235.0 553.5,240.5 557.6,246.0 560.9,250.1 564.5,252.3 570.0,252.9 574.2,251.8 578.3,250.7 579.7,254.3 575.6,261.2 571.4,268.1 565.9,275.0 560.4,280.5 556.2,284.7 554.3,290.2 554.9,297.1 556.2,302.6 555.4,309.5 553.5,315.0 549.3,320.6 543.8,324.7 541.0,328.0" />
<polyline points="535.5,207.3 538.3,210.1 541.0,208.7 540.5,212.9 543.8,218.4 548.0,223.9 552.1,230.8 554.9,237.7 557.6,243.2 560.4,247.4 562.6,248.8 567.3,246.8 574.2,244.1 581.1,241.3 588.0,238.5 593.5,235.0 597.7,231.4 600.4,226.7 602.4,224.2 599.0,221.4 596.3,218.1 594.1,216.4 590.8,218.4 585.2,220.3 579.7,218.4 577.0,214.2 573.6,210.1 574.2,206.5 578.3,208.7 583.9,212.0 589.4,215.6 594.9,214.2 599.0,216.4 606.0,217.6 612.9,218.4 618.4,219.8 622.5,223.1 625.3,225.3 627.2,227.5 630.0,225.3 632.2,228.0 632.7,233.6 634.9,240.5 637.7,247.4 640.5,254.3 643.2,258.4 646.0,257.0 648.2,251.5 649.3,246.0 651.5,241.9 655.7,238.5 659.8,235.0 663.9,231.4 668.1,229.4 672.2,226.7 676.4,224.7 679.1,228.0 681.3,232.2 683.3,236.3 686.0,239.1 690.2,240.5 692.9,244.6 695.7,250.1 694.3,255.7 697.1,259.8 699.9,265.3 702.6,269.5 706.8,275.0 709.5,280.5 712.3,286.0 713.7,291.6 710.9,291.0 706.8,284.7 702.6,279.1 699.0,273.6 695.7,268.1 695.2,262.6 697.1,252.9 699.0,247.4 702.6,250.1 706.8,254.3 710.9,257.0 715.6,254.3 719.2,250.1 720.6,244.6 719.2,239.1 715.0,236.3 711.7,233.6 713.7,229.4 719.2,226.7 724.7,225.8 731.6,224.7 737.1,222.5 742.7,219.8 746.8,215.6 749.6,210.1 750.4,206.5" />
<polyline points="649.3,255.7 652.9,255.1 654.8,259.8 652.9,263.9 650.1,263.4 648.8,259.0 649.3,255.7" />
<polyline points="718.4,230.3 721.9,229.4 723.3,232.2 720.6,235.0 718.4,233.0 718.4,230.3" />
<polyline points="534.1,280.0 538.3,278.3 540.5,280.5 539.7,284.7 536.1,285.5 533.9,283.3 534.1,280.0" />
<polyline points="563.1,319.2 568.7,313.7 574.2,309.5 577.5,308.1 579.2,313.7 577.0,321.9 574.2,328.0" />
<polyline points="746.8,236.3 749.6,234.1 752.3,237.7 751.5,243.2 755.1,246.8 750.9,246.0 748.2,241.9 746.3,239.1 746.8,236.3" />
<polyline points="750.9,259.8 755.1,257.0 759.8,256.2 761.4,261.2 758.7,265.3 755.1,263.9 752.3,261.7 750.9,259.8" />
<polyline points="249.2,251.2 253.4,255.3 258.9,258.1 263.0,260.0 266.4,258.9 268.6,256.7" />
<polyline points="258.9,252.6 261.7,256.2 265.3,257.3 268.6,256.7" />
<polyline points="254.8,225.8 260.3,223.6 266.4,224.1 272.7,226.3 278.2,229.1 282.4,231.3 276.9,230.5 271.3,229.1 266.4,226.9 260.3,226.3 254.8,225.8" />
<polyline points="279.6,233.2 285.1,231.9 290.7,232.4 293.4,234.6 287.9,235.7 282.4,235.2 279.6,233.2" />
<polyline points="270.0,234.6 274.1,234.1 274.6,235.7 270.8,236.0 270.0,234.6" />
<polyline points="296.2,234.1 300.3,234.1 300.3,235.4 296.2,235.4 296.2,234.1" />
<polyline points="270.0,218.0 271.3,221.4" />
<polyline points="281.0,226.9 282.4,228.0" />
<polyline points="268.6,256.7 271.3,260.9 272.7,266.4 271.3,271.9 267.2,276.0 265.3,280.2 266.4,284.3 263.0,288.5 264.4,294.0 268.6,299.5 272.7,306.4 276.9,313.3 282.4,317.5 287.9,321.6 289.3,328.5 288.5,336.8 287.3,345.1 285.7,353.4 285.1,361.7 282.9,369.9 281.8,376.0" />
<polyline points="268.6,256.7 272.7,258.1 276.9,255.3 282.4,252.6 285.7,250.6 286.5,256.7 287.9,251.2 292.0,249.0 297.6,252.6 304.5,253.4 311.4,254.0 314.1,258.1 319.7,262.2 326.6,265.0 332.1,266.4 336.2,270.5 337.6,276.0 336.2,281.0 334.9,282.1 339.0,279.4 343.1,281.0 348.7,281.6 352.8,284.3 359.7,285.7 366.6,287.6 372.1,291.2 374.9,295.9 373.5,302.3 369.4,306.4 365.2,311.9 363.0,318.9 362.5,325.8 359.7,331.3 355.6,334.0 350.0,334.6 344.5,338.2 341.8,343.7 339.0,349.2 334.9,354.8 330.7,358.9 325.2,361.7 319.7,361.1 321.0,365.8 318.3,369.9 312.8,372.2 308.6,372.7 307.2,376.0" />
<polyline points="238.2,278.8 239.3,281.6" />
<polyline points="417.7,210.3 421.0,211.1" />
<polyline points="423.8,210.3 424.9,210.9" />
<polyline points="287.1,343.2 287.1,351.0 285.8,357.5 283.2,363.9 281.9,371.7 283.2,379.4 280.6,384.6 278.1,389.8 276.8,396.3 278.1,401.4 280.6,405.3 284.5,407.9 289.7,409.2 293.6,411.8 297.4,411.0 301.3,410.0 297.4,407.4 293.6,405.3 291.0,402.7 292.3,398.8 296.2,395.0 297.4,389.8 300.0,385.9 302.6,380.7 306.5,378.2 309.1,374.3 313.0,371.7 318.1,370.4 320.7,366.5 319.4,361.3 322.0,362.6 327.2,361.9 332.4,358.8 336.2,353.6 337.5,351.0 338.8,345.8" />
<polyline points="281.9,405.3 287.1,405.8 292.3,404.8" />
<polyline points="297.4,463.5 302.6,462.2 307.8,459.6 311.7,457.0 313.5,453.2 311.7,449.3 309.1,445.4 306.5,441.5 303.9,440.2 307.8,437.6 311.7,435.1 315.6,433.2 319.4,431.7 320.7,429.9 316.8,428.6 315.6,431.7 310.4,433.8 305.2,435.8 300.0,438.4 296.2,440.2 291.8,441.0 293.6,442.8 297.4,441.5 300.0,444.1 297.4,448.0 293.6,450.6 288.4,451.9 283.2,452.4 276.8,451.3 274.7,449.3 279.3,448.8 285.8,449.3 291.0,448.0 292.3,445.4 289.7,444.1 287.1,448.0 281.9,449.8" />
<polyline points="194.0,458.3 199.2,457.6 205.6,457.0 212.1,454.4 217.3,453.2 222.4,452.4 227.6,453.2 235.4,453.2 245.7,453.9 256.1,454.4 269.0,454.4 271.6,452.4 276.8,451.3" />
<polyline points="213.4,455.7 217.3,452.4 222.4,451.9 227.6,453.2 226.3,456.5 219.9,457.0 217.3,458.3 214.7,456.5 213.4,455.7" />
<polyline points="297.4,463.5 307.8,464.8 315.6,465.3" />
<polyline points="433.0,206.0 428.3,210.6 422.8,217.0 419.4,223.4 417.2,231.1 416.7,235.0 418.6,241.9 420.6,247.4 424.1,251.5 428.3,257.0 432.4,261.7 438.0,265.3 443.5,267.3 450.4,266.7 457.3,265.3 464.2,263.9 469.7,263.4 473.9,266.7 478.0,269.5 480.8,273.6 482.1,280.5 484.9,286.0 487.7,291.6 489.6,298.5 489.0,305.4 487.7,312.3 486.3,317.8 489.0,323.3 491.8,328.0" />
<polyline points="417.2,210.4 419.4,210.9" />
<polyline points="421.4,210.4 423.3,209.8" />
<polyline points="494.0,266.2 497.3,265.3" />
<polyline points="500.1,264.5 504.2,263.9" />
<polyline points="488.5,322.9 489.4,327.0 492.1,333.9 494.9,342.2 497.7,350.5 501.8,357.4 505.9,361.5 512.9,362.4 519.8,360.7 525.3,358.8 530.8,354.6 534.9,349.1 537.7,343.6 541.9,339.4 543.2,332.5 542.7,327.0 542.1,322.9" />
<polyline points="314.0,463.7 325.0,465.1 336.1,466.5 347.1,467.3 361.0,467.9 374.8,466.5 388.6,463.7 402.4,459.6 413.4,456.8 424.5,454.0 430.0,451.3 434.1,449.9 436.9,448.5 439.7,449.9 442.4,448.0 446.6,449.1 450.7,448.0 454.9,448.5 460.4,449.1 468.7,448.0 479.7,447.1 490.8,447.1 504.6,447.1 518.4,447.1 532.2,446.3 537.7,443.5 543.2,445.2 554.0,446.3" />
<polyline points="315.4,431.4 320.9,430.6 321.7,431.9 316.2,432.8 315.4,431.4" />
<polyline points="316.8,428.6 319.5,428.1" />
<polyline points="562.1,322.9 562.1,327.0 562.6,332.5 564.9,338.0 569.0,340.3 573.1,336.7 575.3,329.8 575.9,327.0 575.9,322.9" />
<polyline points="545.5,446.3 554.4,444.4 564.9,442.4 575.9,440.2 581.4,437.5 588.3,436.9 592.5,438.0 595.2,438.9 600.8,439.7 609.0,440.8 617.3,440.2 622.9,440.8 626.2,443.0 627.0,447.1 631.1,446.3 639.4,444.4 647.7,441.6 658.8,439.7 669.8,438.9 680.9,438.0 691.9,438.3 700.2,437.5 705.7,436.9 711.2,438.0 722.0,438.9" />
<polyline points="730.6,333.7 732.0,331.0 737.5,329.0 744.4,327.4 750.0,324.0 752.7,319.9 755.5,317.1 761.0,313.6 765.1,314.4 769.3,311.6 770.7,308.9 776.2,306.1 781.7,307.5 785.9,308.0 785.0,312.4 787.2,316.3 791.4,319.1 795.5,320.7 796.9,315.8 798.3,310.2 799.7,305.3 801.6,307.5 803.8,313.0 806.6,317.1 809.3,322.7 813.5,327.4 817.6,331.0 821.8,335.1 824.5,339.2 826.5,344.8 825.9,350.3 824.5,355.8 821.8,361.3 819.0,365.5 816.2,368.8 812.1,370.4 807.9,371.5 805.2,369.6 802.4,371.0 798.3,369.6 794.1,367.7 792.2,364.1 790.0,361.3 787.8,358.6 785.9,361.3 783.9,358.6 780.3,356.6 774.8,355.0 769.3,354.4 762.4,355.8 755.5,357.7 748.6,359.4 743.0,360.5 738.9,362.2 735.3,361.3 734.2,357.2 735.3,353.0 733.4,347.5 731.4,342.0 730.6,337.9 730.6,333.7" />
<polyline points="805.2,376.5 809.3,376.0 813.5,376.5 812.6,380.7 809.9,383.4 806.6,381.5 805.2,376.5" />
<polyline points="872.3,361.3 875.1,364.1 877.8,366.9 881.1,368.2 886.1,368.8 883.9,372.4 880.6,374.3 877.8,376.5 875.6,373.8 877.0,370.4 874.2,366.9 872.3,361.3" />
<polyline points="875.6,376.5 872.9,379.3 868.7,382.6 864.6,385.4 860.4,388.1 857.7,389.8 861.3,390.9 865.9,389.8 870.6,387.0 874.2,383.4 877.0,379.8 875.6,376.5" />
<polyline points="772.0,281.2 776.2,279.3 780.3,280.4 778.9,282.6 783.1,284.0 787.2,282.1 794.1,283.2 801.0,285.4 806.6,288.1 810.7,292.3 813.5,296.4 816.2,300.6 819.0,304.2 814.9,302.5 810.7,299.2 806.6,297.0 802.4,297.8 799.7,300.6 795.5,299.2 791.4,297.8 788.6,299.7 790.0,295.9 787.2,292.3 783.1,289.5 778.9,287.6 774.8,285.9 772.9,284.0 772.0,281.2" />
<polyline points="719.6,275.7 723.7,273.0 729.2,268.8 736.1,263.3 741.7,262.7 743.6,266.0 741.7,270.2 742.5,275.7 740.3,281.2 737.5,285.9 733.4,288.7 729.2,286.8 725.1,287.6 722.3,284.0 720.4,279.9 719.6,275.7" />
<polyline points="744.4,278.5 750.0,276.5 756.9,274.9 758.2,276.5 752.7,279.3 750.0,282.1 754.1,284.8 752.7,289.5 750.0,286.8 748.0,290.9 745.8,291.5 745.3,286.8 743.6,282.6 744.4,278.5" />
<polyline points="686.4,266.0 692.0,267.4 698.9,273.0 704.4,279.9 709.9,285.9 712.7,290.9 711.3,293.7 705.8,289.5 700.2,284.0 694.7,277.1 689.2,271.0 686.4,266.0" />
<polyline points="711.3,293.7 718.2,295.0 726.5,296.4 732.6,297.8 732.0,299.2 725.1,298.6 716.8,297.0 711.3,295.3 711.3,293.7" />
<polyline points="750.8,259.1 755.5,257.2 760.2,256.4 761.8,260.5 759.6,264.7 755.5,263.8 752.7,261.9 750.8,259.1" />
<polyline points="634.5,443.0 650.0,441.7 657.8,439.9 665.5,439.1 675.9,438.6 686.2,438.6 696.6,438.3 704.3,436.8 712.1,437.8 719.8,439.3 725.0,437.3 730.2,436.8 737.9,438.3 745.7,439.3 753.4,438.6 761.2,437.8 769.0,439.9 771.6,437.8 779.3,437.5 789.7,438.3 800.0,439.3 807.8,440.9 812.9,442.4 820.7,443.0 828.4,444.0 833.6,445.6 841.4,446.1 846.6,447.6 854.3,447.1 862.1,449.4 868.5,451.2 864.7,453.8 859.5,454.6 854.3,457.2 849.1,459.0 848.6,462.4 851.7,464.9 856.4,467.0 850.4,467.5 844.0,467.5 841.9,469.3 842.7,472.7 846.6,475.3 854.3,477.1 864.7,478.7 875.0,479.2 882.8,479.7 890.0,480.5" />
<polyline points="26.0,479.7 36.3,481.2 46.7,482.3 57.0,483.1 67.4,483.8 77.7,483.1 88.1,482.3 101.0,482.3 108.2,483.1 103.6,481.2 95.8,480.5 89.4,479.7 90.1,476.6 87.6,474.5 90.7,473.5 98.4,473.0 108.8,472.2 103.6,470.9 95.8,469.3 88.1,468.3 80.3,467.5 77.7,465.7 77.2,464.2 81.6,463.7 88.1,464.2 95.8,465.2 103.6,464.9 106.7,463.1 106.2,461.1 113.9,460.6 121.7,459.5 129.4,458.5 134.6,458.0 139.8,458.5 145.0,460.0 151.4,461.6 155.3,459.0 159.2,457.2 162.6,453.8 166.9,455.9 172.1,455.4 176.0,456.4 176.5,459.0 181.2,459.8 186.3,459.0 188.4,455.4 191.5,457.2 194.1,459.0 198.0,458.5 199.3,460.0 204.4,459.0 209.6,458.5" />
<polyline points="159.9,158.2 160.5,162.2 161.0,165.3 159.4,171.6 158.9,177.9 161.0,184.3 164.2,189.0 167.3,193.7 170.5,196.6 174.4,197.7 177.6,201.6 179.9,205.6 183.1,209.5 186.3,212.7 189.4,215.1 193.4,216.6 196.5,219.0 199.7,221.4 202.8,224.5 205.2,227.7 205.7,230.8 209.2,234.0 213.9,236.4 218.6,238.7 223.4,240.3 228.1,241.1 232.8,240.3 237.6,242.7 242.3,245.1 247.1,248.2 250.2,252.2 251.8,255.0 253.4,256.1" />
<polyline points="182.3,202.9 185.5,202.4 187.4,204.8 188.6,209.5 191.0,213.5 193.4,218.2 195.3,222.2 194.2,223.4 191.8,220.9 189.4,218.2 187.4,215.1 184.7,213.5 183.1,211.9 183.9,207.9 182.6,205.6 182.3,202.9" />
<polyline points="266.0,216.6 265.2,218.7 263.6,217.1 262.1,213.5 260.5,209.5 258.9,207.2 254.9,206.1 250.2,205.6 246.3,205.1 243.1,206.4 241.5,207.2 237.6,206.4 232.8,207.2 228.9,208.7 225.7,211.9 224.2,216.6 223.7,222.2 224.2,226.9 226.5,230.8 230.5,234.0 234.4,235.1 238.4,234.5 240.7,232.4 241.5,229.3 244.7,227.7 248.6,227.2 249.4,229.3 247.8,232.4 247.1,236.4 245.5,239.5 248.6,241.1 253.4,240.3 256.5,242.7 258.1,246.6 258.9,251.4 258.4,255.0 258.7,256.1" />
<polyline points="236.8,166.6 240.7,164.5 245.5,162.2 249.4,161.4 251.8,162.9 254.2,166.1 256.5,167.7 254.9,168.5 251.8,166.9 248.6,166.1 244.7,165.6 240.7,166.9 236.8,166.6" />
<polyline points="247.8,170.1 250.2,168.8 251.0,171.6 250.5,175.6 249.4,178.3 247.8,177.6 247.4,174.0 247.8,170.1" />
<polyline points="254.9,168.8 258.9,168.5 262.1,170.1 263.6,173.2 262.1,174.8 259.7,172.4 257.3,173.2 256.5,170.8 254.9,168.8" />
</g>
<rect x="26" y="63" width="864" height="432" fill="none" stroke="#262626" stroke-width="1.9"/>
<text x="457.9" y="36" font-size="19.5" text-anchor="middle">Temperature</text>
<rect x="209.00" y="504.5" width="31.43" height="15.5" fill="#040ed8"/><rect x="240.12" y="504.5" width="31.43" height="15.5" fill="#2050ff"/><rect x="271.25" y="504.5" width="31.43" height="15.5" fill="#4196ff"/><rect x="302.38" y="504.5" width="31.43" height="15.5" fill="#6dc1ff"/><rect x="333.50" y="504.5" width="31.43" height="15.5" fill="#86d9ff"/><rect x="364.62" y="504.5" width="31.43" height="15.5" fill="#9ceeff"/><rect x="395.75" y="504.5" width="31.43" height="15.5" fill="#aff5ff"/><rect x="426.88" y="504.5" width="31.43" height="15.5" fill="#ceffff"/><rect x="458.00" y="504.5" width="31.43" height="15.5" fill="#fffe47"/><rect x="489.12" y="504.5" width="31.43" height="15.5" fill="#ffeb00"/><rect x="520.25" y="504.5" width="31.43" height="15.5" fill="#ffc400"/><rect x="551.38" y="504.5" width="31.43" height="15.5" fill="#ff9000"/><rect x="582.50" y="504.5" width="31.43" height="15.5" fill="#ff4800"/><rect x="613.62" y="504.5" width="31.43" height="15.5" fill="#ff0000"/><rect x="644.75" y="504.5" width="31.43" height="15.5" fill="#d50000"/><rect x="675.88" y="504.5" width="31.43" height="15.5" fill="#9e0000"/><rect x="209.0" y="504.5" width="498.0" height="15.5" fill="none" stroke="#333" stroke-width="1"/><line x1="209.0" y1="504" x2="209.0" y2="523.5" stroke="#222" stroke-width="1.2"/><line x1="258.8" y1="516.5" x2="258.8" y2="520.5" stroke="#222" stroke-width="1.2"/><line x1="308.6" y1="516.5" x2="308.6" y2="523.5" stroke="#222" stroke-width="1.2"/><line x1="358.4" y1="516.5" x2="358.4" y2="520.5" stroke="#222" stroke-width="1.2"/><line x1="408.2" y1="516.5" x2="408.2" y2="523.5" stroke="#222" stroke-width="1.2"/><line x1="458.0" y1="516.5" x2="458.0" y2="520.5" stroke="#222" stroke-width="1.2"/><line x1="507.8" y1="516.5" x2="507.8" y2="523.5" stroke="#222" stroke-width="1.2"/><line x1="557.6" y1="516.5" x2="557.6" y2="520.5" stroke="#222" stroke-width="1.2"/><line x1="607.4" y1="516.5" x2="607.4" y2="523.5" stroke="#222" stroke-width="1.2"/><line x1="657.2" y1="516.5" x2="657.2" y2="520.5" stroke="#222" stroke-width="1.2"/><line x1="707.0" y1="504" x2="707.0" y2="523.5" stroke="#222" stroke-width="1.2"/><polygon points="184.6,512 202,503.8 202,520.2" fill="#000074"/><polygon points="731.4,512 714,503.8 714,520.2" fill="#560000"/>
<text x="209.0" y="534.4" font-size="12.2" text-anchor="middle">2.2E+02</text><text x="308.6" y="534.4" font-size="12.2" text-anchor="middle">2.4E+02</text><text x="408.2" y="534.4" font-size="12.2" text-anchor="middle">2.5E+02</text><text x="507.8" y="534.4" font-size="12.2" text-anchor="middle">2.7E+02</text><text x="607.4" y="534.4" font-size="12.2" text-anchor="middle">2.9E+02</text><text x="707.0" y="534.4" font-size="12.2" text-anchor="middle">3.1E+02</text>
<text x="457.8" y="555" font-size="17.4" text-anchor="middle">Temperature (K)</text>
<text x="457" y="578" font-size="9.8" text-anchor="middle">Data Min = 2.2E+02, Max = 3.1E+02</text>
</svg>
</body></html>
